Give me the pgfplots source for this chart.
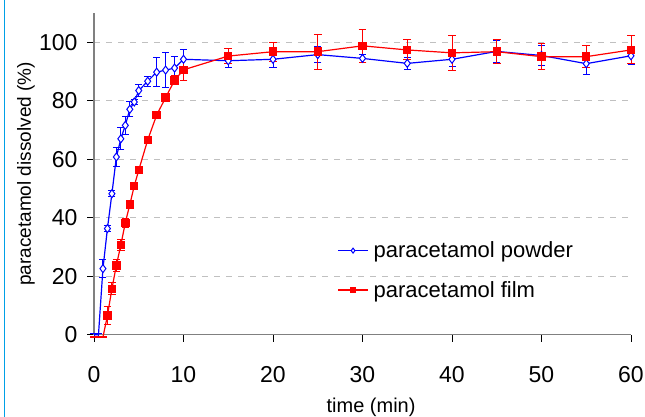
\documentclass[border=0pt]{standalone}
\usepackage{pgfplots}
\pgfplotsset{compat=1.18}
\usepackage{pgfplotstable}
\usepackage{fontspec}
\setmainfont{Liberation Sans}
\definecolor{frameblue}{RGB}{0,160,230}
\definecolor{axgray}{RGB}{128,128,128}
\definecolor{gridgray}{RGB}{192,192,192}
\pgfplotstableread{
t y e
0 0 0.5
0.5 0 0.5
1 22.6 3.1
1.5 36.3 1
2 48.2 1
2.5 60.8 3.2
3 67 3.7
3.5 71.6 3
4 77.1 2.5
4.5 79.6 1
5 83.5 2
6 86.7 1.7
7 89.8 5
8 90.5 6.1
9 91.2 4
10 94.2 3.4
15 93.7 2.3
20 94.2 2.7
25 95.8 2.7
30 94.5 1.5
35 92.8 2
40 94.2 2.5
45 96.9 3.8
50 95.5 3.4
55 92.7 3.6
60 95.4 3
}\powder
\pgfplotstableread{
t y e
0 -0.8 0.3
0.5 -0.8 0.3
1 -0.8 0.3
1.5 6.5 3
2 15.7 2
2.5 23.7 2
3 30.7 2
3.5 38.3 1.5
4 44.5 1.2
4.5 50.9 1
5 56.3 1
6 66.6 1
7 75.1 1
8 81.1 1.5
9 87 1.5
10 90.6 3.6
15 95.3 2.7
20 96.8 3.2
25 96.8 6
30 98.8 5.6
35 97.4 3.4
40 96.4 6
45 96.8 4
50 95.1 4.5
55 95.1 3.8
60 97.4 4.8
}\film
\begin{document}
\begin{tikzpicture}[x=1pt,y=1pt]
\path[use as bounding box] (0,0) rectangle (645,417);
\draw[frameblue, line width=1pt] (4,0) -- (4,417);
\begin{axis}[
  at={(94pt,82.3pt)}, anchor=south west,
  scale only axis, width=537pt, height=321.6pt,
  xmin=0, xmax=60, ymin=0, ymax=110,
  xtick={0,10,...,60}, ytick={0,20,...,100},
  axis x line*=bottom, axis y line*=left,
  axis line style={axgray, line width=1.2pt},
  tick align=outside, major tick length=7pt,
  tick style={black, line width=0.8pt},
  ymajorgrids, grid style={gridgray, dashed, dash pattern=on 6pt off 6pt, line width=1pt},
  clip=false,
  /pgf/number format/assume math mode=true,
  ticklabel style={font=\fontsize{23}{23}\selectfont},
  xticklabel style={yshift=-21pt},
  yticklabel style={xshift=-6pt},
  xlabel={time (min)}, ylabel={paracetamol dissolved (\%)},
  label style={font=\fontsize{19}{19}\selectfont},
  xlabel style={at={(axis description cs:0.516,-0.197)}, anchor=north, inner sep=0pt, font=\fontsize{20}{20}\selectfont},
  ylabel style={at={(axis description cs:-0.1266,0.5)}, anchor=center, inner sep=0pt},
  legend style={draw=none, fill=none, at={(axis description cs:0.453,0.2)}, anchor=west,
    font=\fontsize{22}{24}\selectfont, row sep=18pt, inner sep=0pt,
    nodes={inner xsep=5pt}},
  legend cell align=left,
  legend image code/.code={\draw[#1,mark size=2.5pt,mark indices={2}] plot coordinates {(0pt,0pt)(15pt,0pt)(30pt,0pt)};},
]
\addplot+[blue, line width=1.2pt, mark=diamond*, mark size=4pt,
  mark options={fill=white, draw=blue, line width=1pt, solid},
  mark indices={3,...,26},
  error bars/.cd, y dir=both, y explicit,
  error bar style={blue, line width=1pt},
  error mark options={rotate=90, mark size=3.5pt, blue, line width=1pt}]
  table[x=t, y=y, y error=e] {\powder};
\addlegendentry{paracetamol powder}
\addplot+[red, line width=1.2pt, mark=square*, mark size=3.6pt,
  mark options={fill=red, draw=red, solid},
  mark indices={4,...,26},
  error bars/.cd, y dir=both, y explicit,
  error bar style={red, line width=1pt},
  error mark options={rotate=90, mark size=3.8pt, red, line width=1pt}]
  table[x=t, y=y, y error=e] {\film};
\addlegendentry{paracetamol film}
\end{axis}
\end{tikzpicture}
\end{document}
